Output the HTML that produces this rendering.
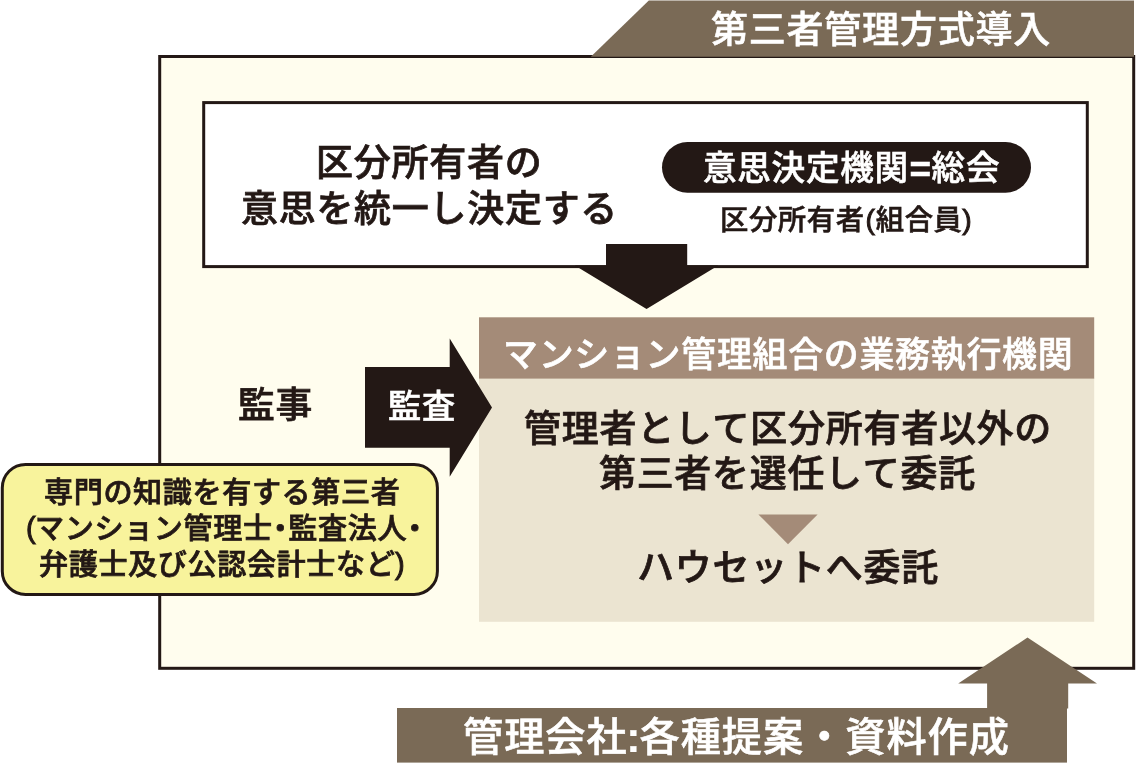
<!DOCTYPE html>
<html lang="ja">
<head>
<meta charset="utf-8">
<title>第三者管理方式導入</title>
<style>
html,body{margin:0;padding:0;background:#fff;}
body{width:1136px;height:764px;position:relative;overflow:hidden;
  font-family:"Liberation Sans","Noto Sans CJK JP",sans-serif;color:#231815;}
#shapes{position:absolute;left:0;top:0;width:1136px;height:764px;display:block;}
/* text labels: absolutely placed, one line each */
.t{position:absolute;white-space:nowrap;line-height:1;margin:0;padding:0;
  font-family:"Liberation Sans","Noto Sans CJK JP",sans-serif;
  font-weight:500;color:#231815;-webkit-text-stroke:0.75px #231815;
  font-kerning:none;will-change:transform;}
.w{color:#fff;-webkit-text-stroke:0.6px #fff;}
/* narrow punctuation slots */
.p{display:inline-block;text-align:center;line-height:0;font-weight:700;letter-spacing:0;}
.d{margin:0 -0.24em;}
#t4 .eq{width:22.8px;font-size:1.1em;position:relative;top:1.5px;-webkit-text-stroke:0.5px #fff;}
#t5{-webkit-text-stroke:0.55px #231815;}
#t5 .lp{width:11.2px;font-weight:400;-webkit-text-stroke:1px #231815;position:relative;top:-0.8px;}
#t5 .rp{width:10.4px;margin-left:-0.8px;font-weight:400;-webkit-text-stroke:1px #231815;position:relative;top:-0.8px;}
#t13 .lp{width:9px;position:relative;top:-1px;font-weight:400;-webkit-text-stroke:1px #231815;}
#t14 .rp{width:10px;position:relative;top:-1px;left:-0.5px;font-weight:400;-webkit-text-stroke:1px #231815;}
#t15 .co{width:12px;font-size:1.06em;text-align:left;text-indent:-1.4px;-webkit-text-stroke:0.2px #fff;position:relative;top:0.8px;}
</style>
</head>
<body>
<svg id="shapes" width="1136" height="764" viewBox="0 0 1136 764">
  <!-- outer cream box -->
  <rect x="159.7" y="56.5" width="974" height="611.8" fill="#fffdee" stroke="#231815" stroke-width="3"/>
  <!-- header tab -->
  <polygon points="590.8,56.7 648.8,0.6 1134,0.6 1134,56.7" fill="#7a6a56"/>
  <!-- white box -->
  <rect x="203.7" y="102.6" width="883.6" height="164" fill="#fff" stroke="#231815" stroke-width="3"/>
  <!-- brown header + beige body -->
  <rect x="479" y="378" width="615.2" height="243.8" fill="#ebe4d1"/>
  <rect x="479" y="317.3" width="615.2" height="61.3" fill="#a48b78"/>
  <!-- black down arrow -->
  <polygon points="606,244.1 687.2,244.1 687.2,265.5 718.2,265.5 646.55,309 574.9,265.5 606,265.5" fill="#231815"/>
  <!-- black right arrow -->
  <polygon points="365,367.1 449.7,367.1 449.7,338.5 492,407.6 449.7,476.8 449.7,447.8 365,447.8" fill="#231815"/>
  <!-- pill -->
  <rect x="662" y="142" width="369" height="50.8" rx="25.4" ry="25.4" fill="#231815"/>
  <!-- small brown triangle -->
  <polygon points="758.4,514.5 817.6,514.5 788,544.2" fill="#a48b78"/>
  <!-- yellow box -->
  <rect x="2.3" y="464.4" width="435.1" height="130.1" rx="23.3" ry="23.3" fill="#f8f39c" stroke="#231815" stroke-width="3"/>
  <!-- bottom bar and up arrow -->
  <rect x="397" y="708" width="670" height="54.6" fill="#7a6a56"/>
  <polygon points="1027.5,637.5 1097,683.5 1068.2,683.5 1068.2,708.5 987.1,708.5 987.1,683.5 958.2,683.5" fill="#7a6a56"/>
</svg>
<div id="t1" class="t w" style="left:711px;top:12px;font-size:37.03px;letter-spacing:0.76px;">第三者管理方式導入</div>
<div id="t2" class="t" style="left:316px;top:145px;font-size:37.01px;letter-spacing:0.76px;">区分所有者の</div>
<div id="t3" class="t" style="left:241px;top:192px;font-size:36.96px;letter-spacing:0.75px;">意思を統一し決定する</div>
<div id="t4" class="t w" style="left:703px;top:152px;font-size:33.61px;letter-spacing:0.69px;">意思決定機関<span class="p eq">=</span>総会</div>
<div id="t5" class="t" style="left:720px;top:206px;font-size:28.34px;letter-spacing:0.58px;">区分所有者<span class="p lp">(</span>組合員<span class="p rp">)</span></div>
<div id="t6" class="t w" style="left:503px;top:338px;font-size:34.95px;letter-spacing:0.71px;">マンション管理組合の業務執行機関</div>
<div id="t7" class="t" style="left:238px;top:388px;font-size:36.79px;letter-spacing:0.75px;">監事</div>
<div id="t8" class="t w" style="left:388px;top:390px;font-size:33.23px;letter-spacing:0.68px;">監査</div>
<div id="t9" class="t" style="left:524px;top:412px;font-size:36.97px;letter-spacing:0.75px;">管理者として区分所有者以外の</div>
<div id="t10" class="t" style="left:599px;top:457px;font-size:36.95px;letter-spacing:0.75px;">第三者を選任して委託</div>
<div id="t11" class="t" style="left:637px;top:550px;font-size:36.99px;letter-spacing:0.76px;">ハウセットへ委託</div>
<div id="t12" class="t" style="left:44px;top:479px;font-size:29.12px;letter-spacing:0.59px;">専門の知識を有する第三者</div>
<div id="t13" class="t" style="left:26px;top:515px;font-size:29.12px;letter-spacing:0.59px;"><span class="p lp">(</span>マンション管理士<span class="d">・</span>監査法人<span class="d">・</span></div>
<div id="t14" class="t" style="left:39px;top:551px;font-size:29.12px;letter-spacing:0.59px;">弁護士及び公認会計士など<span class="p rp">)</span></div>
<div id="t15" class="t w" style="left:463px;top:718px;font-size:40.18px;letter-spacing:0.97px;">管理会社<span class="p co">:</span>各種提案・資料作成</div>
</body>
</html>
